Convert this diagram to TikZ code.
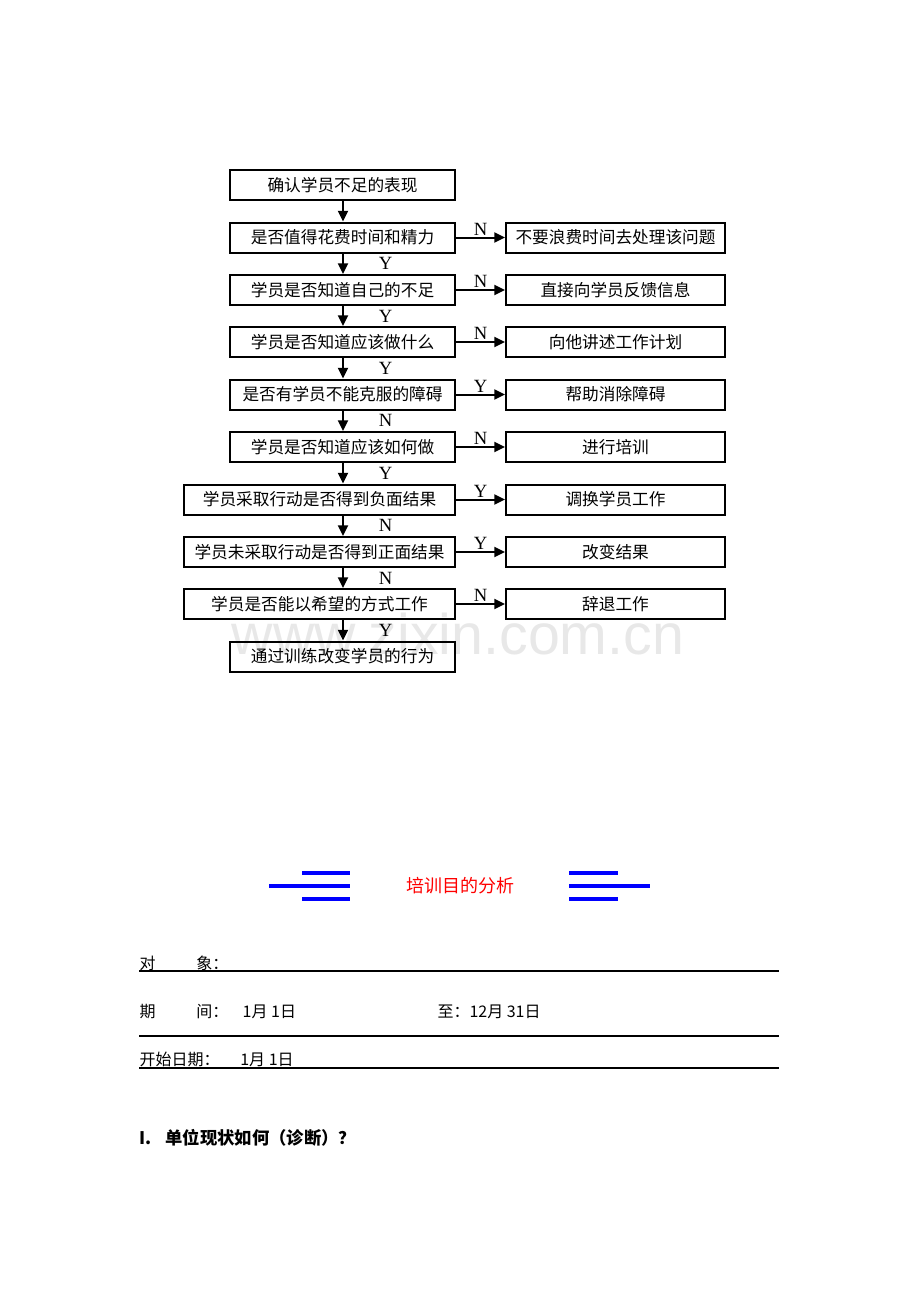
\documentclass[tikz,border=0pt]{standalone}
\usepackage{fontspec}
\setmainfont{Liberation Serif}
\newfontfamily\cjk{Noto Sans CJK SC}
\newfontfamily\webfont{Liberation Sans}
\usetikzlibrary{arrows.meta}

\tikzset{every picture/.style={line width=0.75pt}}
\tikzset{
  box/.style={draw, line width=1.5pt, minimum height=22.5pt, inner sep=1pt, font=\cjk\fontsize{12.5}{14}\selectfont},
  qbox/.style={box, minimum width=168.75pt},
  qlong/.style={box, minimum width=203.25pt},
  abox/.style={box, minimum width=164.25pt},
  arr/.style={line width=1.5pt, -{Triangle[length=8pt,width=7.5pt]}},
  yn/.style={font=\fontsize{14}{14}\selectfont, inner sep=1pt},
  vlbl/.style={yn, xshift=32pt},
  bar/.style={blue, line width=2.5pt},
  form/.style={anchor=west, inner sep=0pt, font=\cjk\fontsize{12}{14}\selectfont},
  rule/.style={line width=0.9pt}
}

\begin{document}
\begin{tikzpicture}[x=0.75pt,y=0.75pt,yscale=-1,xscale=1]
\path (0,0) rectangle (920,1302); %page frame
\coordinate (spine) at (343,0);
%Watermark
\node[text=black!9, font=\webfont\fontsize{43}{43}\selectfont] (wm) at (458,634) {www.zixin.com.cn};
%Left column
\node[qbox] (q1) at (342.5,185) {确认学员不足的表现};
\node[qbox] (q2) at (342.5,237.5) {是否值得花费时间和精力};
\node[qbox] (q3) at (342.5,290) {学员是否知道自己的不足};
\node[qbox] (q4) at (342.5,342) {学员是否知道应该做什么};
\node[qbox] (q5) at (342.5,394.5) {是否有学员不能克服的障碍};
\node[qbox] (q6) at (342.5,447) {学员是否知道应该如何做};
\node[qlong] (q7) at (319.5,499.5) {学员采取行动是否得到负面结果};
\node[qlong] (q8) at (319.5,552) {学员未采取行动是否得到正面结果};
\node[qlong] (q9) at (319.5,604) {学员是否能以希望的方式工作};
\node[qbox] (q10) at (342.5,656.5) {通过训练改变学员的行为};
%Right column
\node[abox] (a2) at (615.5,237.5) {不要浪费时间去处理该问题};
\node[abox] (a3) at (615.5,290) {直接向学员反馈信息};
\node[abox] (a4) at (615.5,342) {向他讲述工作计划};
\node[abox] (a5) at (615.5,394.5) {帮助消除障碍};
\node[abox] (a6) at (615.5,447) {进行培训};
\node[abox] (a7) at (615.5,499.5) {调换学员工作};
\node[abox] (a8) at (615.5,552) {改变结果};
\node[abox] (a9) at (615.5,604) {辞退工作};
%Down arrows
\draw[arr] (q1.south -| spine) -- (q2.north -| spine);
\draw[arr] (q2.south -| spine) -- node[vlbl] {Y} (q3.north -| spine);
\draw[arr] (q3.south -| spine) -- node[vlbl] {Y} (q4.north -| spine);
\draw[arr] (q4.south -| spine) -- node[vlbl] {Y} (q5.north -| spine);
\draw[arr] (q5.south -| spine) -- node[vlbl] {N} (q6.north -| spine);
\draw[arr] (q6.south -| spine) -- node[vlbl] {Y} (q7.north -| spine);
\draw[arr] (q7.south -| spine) -- node[vlbl] {N} (q8.north -| spine);
\draw[arr] (q8.south -| spine) -- node[vlbl] {N} (q9.north -| spine);
\draw[arr] (q9.south -| spine) -- node[vlbl] {Y} (q10.north -| spine);
%Side arrows
\draw[arr] (q2) -- node[yn, above] {N} (a2);
\draw[arr] (q3) -- node[yn, above] {N} (a3);
\draw[arr] (q4) -- node[yn, above] {N} (a4);
\draw[arr] (q5) -- node[yn, above] {Y} (a5);
\draw[arr] (q6) -- node[yn, above] {N} (a6);
\draw[arr] (q7) -- node[yn, above] {Y} (a7);
\draw[arr] (q8) -- node[yn, above] {Y} (a8);
\draw[arr] (q9) -- node[yn, above] {N} (a9);

%Title with bars
\node[text=red, font=\cjk\fontsize{13.5}{15}\selectfont] (title) at (460,886) {培训目的分析};
\draw[bar] (302,873) -- (350,873);
\draw[bar] (269,886) -- (350,886);
\draw[bar] (302,899) -- (350,899);
\draw[bar] (569,873) -- (618,873);
\draw[bar] (569,886) -- (650,886);
\draw[bar] (569,899) -- (618,899);

%Form
\node[form] (obj) at (139,963) {对\hspace{2.55em}象：};
\draw[rule] (139,971) -- (779,971);
\node[form] (period) at (139,1012) {期\hspace{2.55em}间：\hspace{0.9em}1月 1日};
\node[form] (until) at (437,1012) {至：12月 31日};
\draw[rule] (139,1036) -- (779,1036);
\node[form] (start) at (139,1059) {开始日期：\hspace{1.3em}1月 1日};
\draw[rule] (139,1068) -- (779,1068);
\node[form, font=\cjk\bfseries\fontsize{13}{15}\selectfont] (sec) at (139,1138) {I.\hspace{0.8em}单位现状如何（诊断）？};
\end{tikzpicture}
\end{document}
